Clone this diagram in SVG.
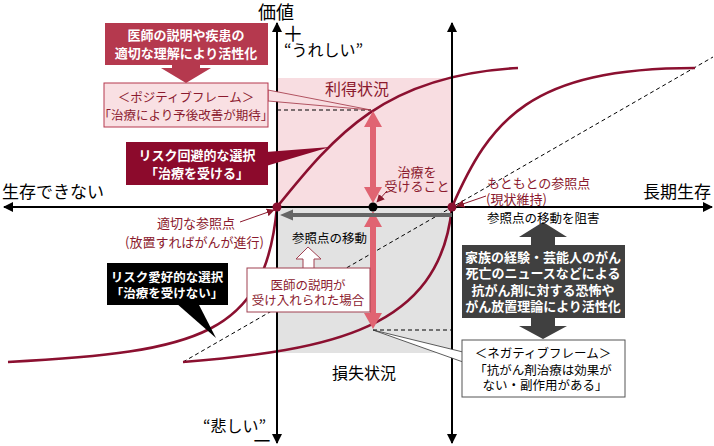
<svg xmlns="http://www.w3.org/2000/svg" width="714" height="446" viewBox="0 0 714 446">
<style>
text{font-family:"Noto Sans CJK JP","Noto Sans",sans-serif;}
.dr{fill:#8b1a2e;}
.wb{fill:#fff;font-weight:bold;}
.c{text-anchor:middle;}
.curve{fill:none;stroke:#8b1030;stroke-width:2.6;}
.dash{fill:none;stroke:#000;stroke-width:1;stroke-dasharray:4,3;}
.axis{stroke:#000;stroke-width:2;fill:none;}
</style>
<defs>
<marker id="ah" viewBox="0 0 10 10" refX="9" refY="5" markerWidth="10" markerHeight="10" markerUnits="userSpaceOnUse" orient="auto"><path d="M0,0 L10,5 L0,10 z" fill="#000"/></marker>
<marker id="ahr" viewBox="0 0 10 10" refX="9" refY="5" markerWidth="8" markerHeight="8" markerUnits="userSpaceOnUse" orient="auto"><path d="M0,0 L10,5 L0,10 z" fill="#8b1a2e"/></marker>
</defs>

<g id="regions">
<rect x="277" y="78" width="175" height="129" fill="#f8dde1"/>
<rect x="277" y="207" width="175" height="146" fill="#e2e2e2"/>
</g>

<g id="connectors">
<line class="dash" x1="183" y1="362" x2="713" y2="57"/>
<line class="dash" x1="277" y1="110" x2="371" y2="110"/>
<line class="dash" x1="373" y1="330" x2="452" y2="330"/>
<path class="curve" d="M8,362 C200,352 265,335 277,207"/>
<path class="curve" d="M277,207 C335,135 385,75 518,68"/>
<path class="curve" d="M183,362 C330,350 440,330 452,207"/>
<path class="curve" d="M452,207 C490,120 530,68 695,68"/>
<line class="axis" x1="277" y1="443" x2="277" y2="23" marker-end="url(#ah)"/>
<line class="axis" x1="277" y1="207" x2="277" y2="443" marker-end="url(#ah)"/>
<line class="axis" x1="452" y1="207" x2="452" y2="23" marker-end="url(#ah)"/>
<line class="axis" x1="452" y1="207" x2="452" y2="443" marker-end="url(#ah)"/>
<line class="axis" x1="360" y1="207" x2="4" y2="207" marker-end="url(#ah)"/>
<line class="axis" x1="360" y1="207" x2="712" y2="207" marker-end="url(#ah)"/>
<polygon fill="#e06472" points="373,111 382,127 376,127 376,187 382,187 373,203 364,187 370,187 370,127 364,127"/>
<polygon fill="#e06472" points="373,211 382,227 376,227 376,313 382,313 373,329 364,313 370,313 370,227 364,227"/>
<polygon fill="#666" points="280,215 293,209.5 293,213 452,213 452,217 293,217 293,220.5"/>
<line x1="387" y1="191" x2="377" y2="202" stroke="#8b1a2e" stroke-width="1" marker-end="url(#ahr)"/>
<line x1="486" y1="196" x2="457" y2="206" stroke="#8b1a2e" stroke-width="1" marker-end="url(#ahr)"/>
<line x1="240" y1="222" x2="274" y2="210" stroke="#8b1a2e" stroke-width="1" marker-end="url(#ahr)"/>
<polygon fill="#404040" points="543,222 567,237 555,237 555,326 567,326 543,339 519,326 531,326 531,237 519,237"/>
</g>

<g id="dots">
<circle cx="277" cy="207" r="4.5" fill="#8b1030"/>
<circle cx="452" cy="207" r="4.5" fill="#8b1030"/>
<circle cx="373" cy="207" r="4.5" fill="#000"/>
</g>

<g id="axis-labels">
<text x="258" y="19" font-size="18">価値</text>
<text x="293" y="41" font-size="21" class="c">＋</text>
<text x="284" y="56" font-size="16">“うれしい”</text>
<text x="643" y="198" font-size="17">長期生存</text>
<text x="2" y="198" font-size="17">生存できない</text>
<text x="203" y="432" font-size="16">“悲しい”</text>
<text x="262" y="448" font-size="21" class="c">－</text>
<text x="357" y="95" font-size="16" class="dr c">利得状況</text>
<text x="364" y="379" font-size="16" class="c">損失状況</text>
</g>

<g id="point-labels">
<text x="417" y="177" font-size="13" class="dr c">治療を</text>
<text x="417" y="191" font-size="13" class="dr c">受けること</text>
<text x="487" y="188" font-size="13" class="dr">もともとの参照点</text>
<text x="486" y="204" font-size="13" class="dr">(現状維持)</text>
<text x="487" y="223" font-size="12.5">参照点の移動を阻害</text>
<text x="157" y="228" font-size="13" class="dr">適切な参照点</text>
<text x="125" y="247" font-size="13" class="dr">(放置すればがんが進行)</text>
<text x="292" y="243" font-size="12.5">参照点の移動</text>
</g>

<g id="activation-box">
<rect x="105" y="23" width="163" height="42" fill="#b5394e"/>
<polygon fill="#b5394e" points="172,64 200,64 200,68 211,68 186,83 161,68 172,68"/>
<text x="186" y="39.5" font-size="13" class="wb c">医師の説明や疾患の</text>
<text x="186" y="57.5" font-size="13" class="wb c">適切な理解により活性化</text>
</g>

<g id="positive-frame">
<polygon points="268,90 371,110 268,101" fill="#f8dde1" stroke="#a03040" stroke-width="0.8"/>
<rect x="104" y="83" width="164" height="44" fill="#f9e0e3" stroke="#b5394e" stroke-width="1"/>
<text x="186" y="101.5" font-size="12.5" class="dr c">＜ポジティブフレーム＞</text>
<text x="186" y="119.5" font-size="12.5" class="dr c">「治療により予後改善が期待」</text>
</g>

<g id="risk-averse">
<polygon points="266,152 330,147 266,166" fill="#8c0a2c"/>
<rect x="126" y="142" width="142" height="43" fill="#8c0a2c"/>
<text x="197" y="159.5" font-size="13" class="wb c">リスク回避的な選択</text>
<text x="197" y="177.5" font-size="13" class="wb c">「治療を受ける」</text>
</g>

<g id="risk-seeking">
<polygon points="176,303 198,303 216,338" fill="#000"/>
<rect x="107" y="263" width="121" height="42" fill="#000"/>
<text x="167" y="281.5" font-size="12.5" class="wb c">リスク愛好的な選択</text>
<text x="167" y="297.5" font-size="12.5" class="wb c">「治療を受けない」</text>
</g>

<g id="accepted">
<polygon points="303,269 303,259 296,259 308,247 321,259 314,259 314,269" fill="#fff" stroke="#a04050" stroke-width="1"/>
<rect x="247" y="268" width="123" height="44" fill="#fff" stroke="#a04050" stroke-width="1"/>
<text x="308" y="289.5" font-size="12.5" class="dr c">医師の説明が</text>
<text x="308" y="305" font-size="12.5" class="dr c">受け入れられた場合</text>
</g>

<g id="fear-box">
<rect x="462" y="245" width="163" height="73" fill="#404040"/>
<text x="543" y="262" font-size="13" class="wb c">家族の経験・芸能人のがん</text>
<text x="543" y="278" font-size="13" class="wb c">死亡のニュースなどによる</text>
<text x="543" y="294.5" font-size="13" class="wb c">抗がん剤に対する恐怖や</text>
<text x="543" y="311" font-size="13" class="wb c">がん放置理論により活性化</text>
</g>

<g id="negative-frame">
<polygon points="373,330 463,352 463,362" fill="#fff" stroke="#333" stroke-width="0.8"/>
<rect x="462" y="340" width="163" height="57" fill="#fff" stroke="#555" stroke-width="1"/>
<text x="543" y="357.5" font-size="12.5" class="c">＜ネガティブフレーム＞</text>
<text x="543" y="374.5" font-size="12.5" class="c">「抗がん剤治療は効果が</text>
<text x="545" y="390" font-size="12.5" class="c">ない・副作用がある」</text>
</g>
</svg>
